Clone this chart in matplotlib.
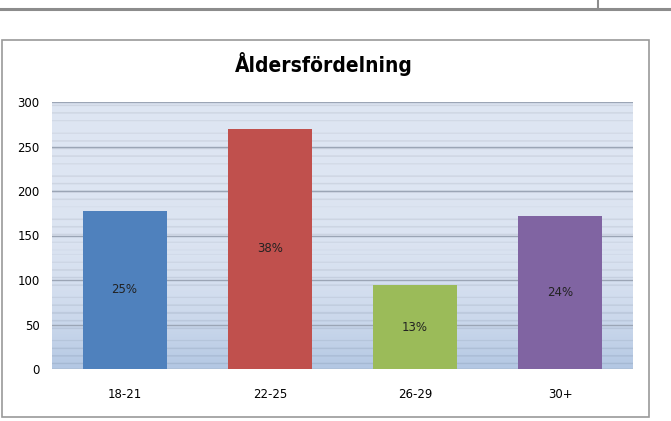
import numpy as np
import matplotlib
matplotlib.use("Agg")
import matplotlib.pyplot as plt
from matplotlib.patches import Rectangle
from matplotlib.lines import Line2D
from matplotlib import font_manager

categories = ["18-21", "22-25", "26-29", "30+"]
values = [178, 270, 94, 172]
labels = ["25%", "38%", "13%", "24%"]
colors = ["#4F81BD", "#C0504D", "#9BBB59", "#8064A2"]
yticks = [0, 50, 100, 150, 200, 250, 300]
title = "Åldersfördelning"

W, H = 671, 421
fig = plt.figure(figsize=(W / 100, H / 100), dpi=100)

# document header lines
fig.add_artist(Line2D([0, 1], [1 - 9 / H, 1 - 9 / H], color="#8c8c8c", lw=2.2, transform=fig.transFigure))
fig.add_artist(Line2D([598 / W, 598 / W], [1 - 9 / H, 1], color="#8c8c8c", lw=1.5, transform=fig.transFigure))
# chart border
fig.add_artist(Rectangle((2 / W, 1 - 417 / H), 647 / W, 377 / H, transform=fig.transFigure,
                         fill=False, edgecolor="#9a9a9a", lw=1.2))

left, right, top, bottom = 52, 633, 102, 369
ax = fig.add_axes([left / W, 1 - bottom / H, (right - left) / W, (bottom - top) / H])

x = np.arange(len(categories))
ax.set_xlim(-0.5, len(categories) - 0.5)
ax.set_ylim(0, 300)

# textured background
ny = 600
t = np.linspace(0, 1, ny)
base_top = np.array([0.87, 0.90, 0.95])
base_bot = np.array([0.70, 0.78, 0.89])
grad = base_top[None, :] - (base_top - base_bot)[None, :] * (1 - t[:, None]) ** 4
stripe = 0.5 + 0.5 * np.sin(t * 97.0) * np.sin(t * 331.0 + 1.3)
grad = grad - 0.07 * (stripe[:, None] > 0.8)
img = np.repeat(grad[:, None, :], 2, axis=1)
ax.imshow(img, extent=(-0.5, len(categories) - 0.5, 0, 300), origin="lower", aspect="auto", zorder=0,
          interpolation="bilinear")
for yv in yticks:
    ax.axhline(yv, color="#9ba5b5", lw=1.0, zorder=1)

bars = ax.bar(x, values, width=0.58, color=colors, zorder=2)
for xi, v, lab in zip(x, values, labels):
    ax.text(xi, v / 2, lab, ha="center", va="center", fontsize=8.5, color="#222222", zorder=3)

ax.set_xticks(x)
ax.set_xticklabels(categories, fontsize=8.5)
ax.set_yticks(yticks)
ax.set_yticklabels([str(v) for v in yticks], fontsize=8.5)
ax.tick_params(length=0, pad=9)
ax.tick_params(axis="x", pad=14)
for s in ax.spines.values():
    s.set_visible(False)

fp = font_manager.FontProperties(family="DejaVu Sans", weight="bold", stretch="condensed", size=15)
fig.text(324 / W, 1 - 64 / H, title, ha="center", va="center", fontproperties=fp)

fig.savefig("out.png", dpi=100)
